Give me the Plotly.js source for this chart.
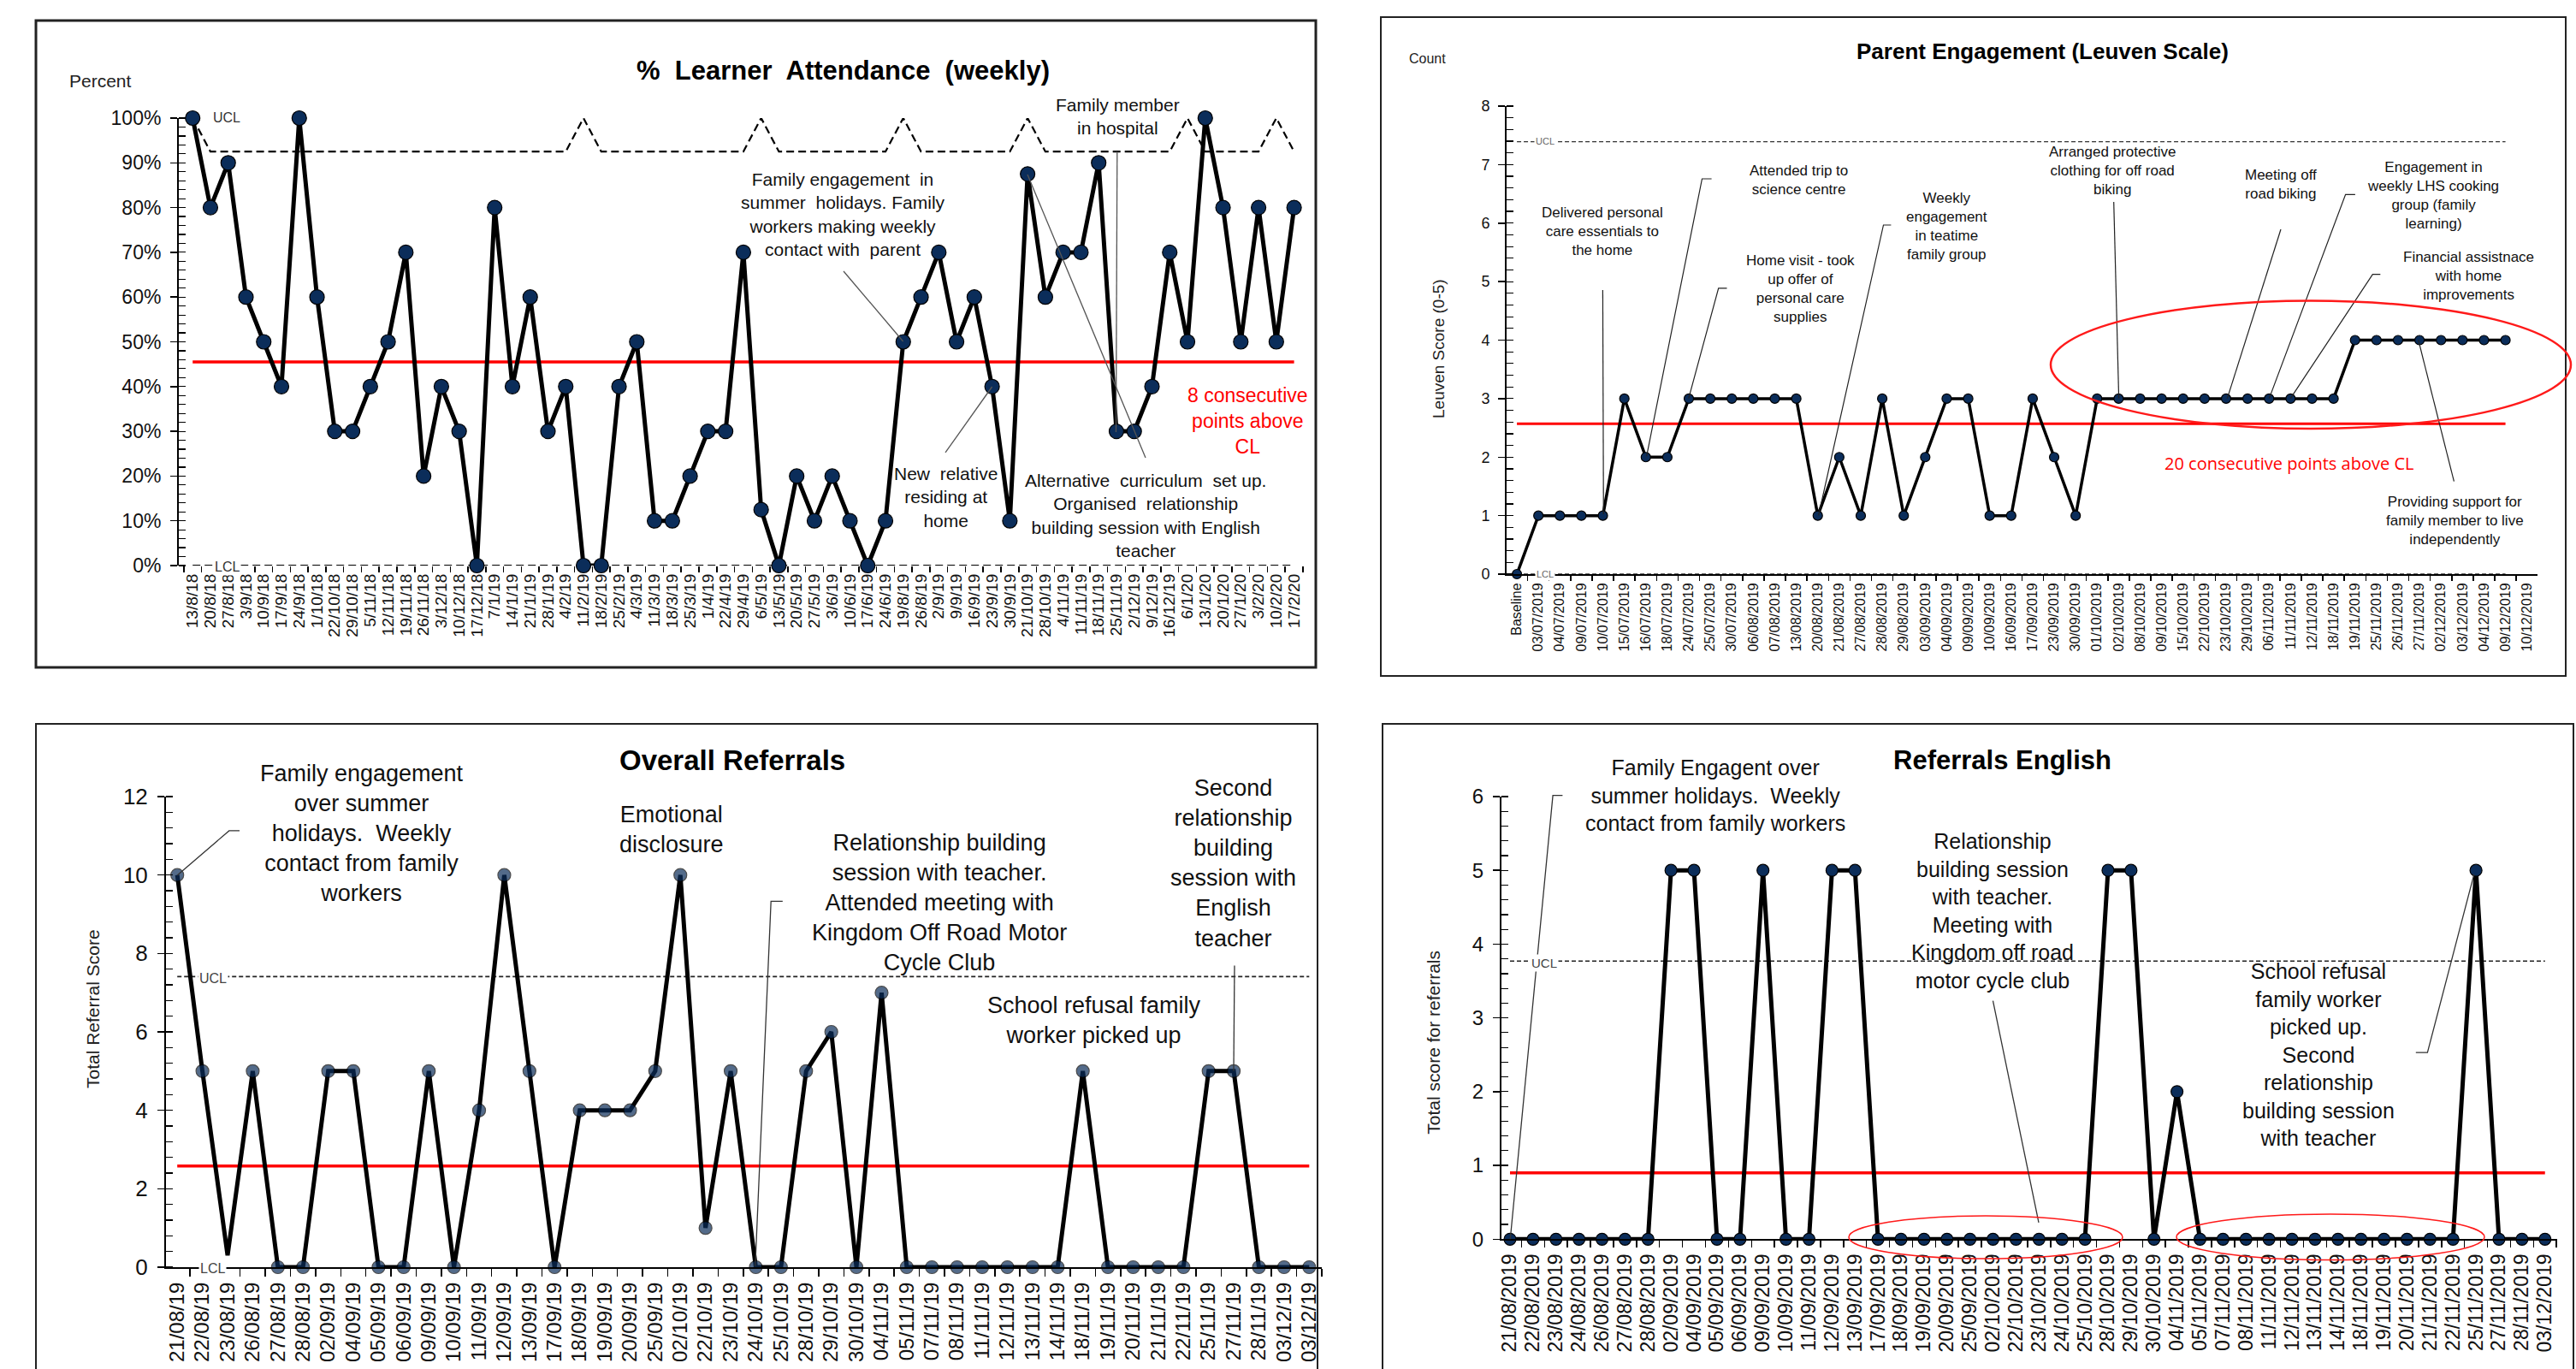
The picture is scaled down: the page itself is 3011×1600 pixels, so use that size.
<!DOCTYPE html>
<html><head><meta charset="utf-8">
<script src="https://cdn.plot.ly/plotly-3.0.1.min.js"></script>
<style>html,body{margin:0;padding:0;background:#fff}#chart{width:3011px;height:1600px}</style>
</head><body><div id="chart"></div>
<script>
// ================= DATA =================
// Panel 1: % Learner Attendance (weekly)
const attWeeks = ["13/8/18","20/8/18","27/8/18","3/9/18","10/9/18","17/9/18","24/9/18","1/10/18","22/10/18","29/10/18","5/11/18","12/11/18","19/11/18","26/11/18","3/12/18","10/12/18","17/12/18","7/1/19","14/1/19","21/1/19","28/1/19","4/2/19","11/2/19","18/2/19","25/2/19","4/3/19","11/3/19","18/3/19","25/3/19","1/4/19","22/4/19","29/4/19","6/5/19","13/5/19","20/5/19","27/5/19","3/6/19","10/6/19","17/6/19","24/6/19","19/8/19","26/8/19","2/9/19","9/9/19","16/9/19","23/9/19","30/9/19","21/10/19","28/10/19","4/11/19","11/11/19","18/11/19","25/11/19","2/12/19","9/12/19","16/12/19","6/1/20","13/1/20","20/1/20","27/1/20","3/2/20","10/2/20","17/2/20"];
const attPct = [100,80,90,60,50,40,100,60,30,30,40,50,70,20,40,30,0,80,40,60,30,40,0,0,40,50,10,10,20,30,30,70,12.5,0,20,10,20,10,0,10,50,60,70,50,60,40,10,87.5,60,70,70,90,30,30,40,70,50,100,80,50,80,50,80];
const attUCL = [100,92.5,92.5,92.5,92.5,92.5,92.5,92.5,92.5,92.5,92.5,92.5,92.5,92.5,92.5,92.5,92.5,92.5,92.5,92.5,92.5,92.5,100,92.5,92.5,92.5,92.5,92.5,92.5,92.5,92.5,92.5,100,92.5,92.5,92.5,92.5,92.5,92.5,92.5,100,92.5,92.5,92.5,92.5,92.5,92.5,100,92.5,92.5,92.5,92.5,92.5,92.5,92.5,92.5,100,92.5,92.5,92.5,92.5,100,92.5];
const attCL = 45.5;
const attLCL = 0;

// Panel 2: Parent Engagement (Leuven Scale)
const leuDates = ["Baseline","03/07/2019","04/07/2019","09/07/2019","10/07/2019","15/07/2019","16/07/2019","18/07/2019","24/07/2019","25/07/2019","30/07/2019","06/08/2019","07/08/2019","13/08/2019","20/08/2019","21/08/2019","27/08/2019","28/08/2019","29/08/2019","03/09/2019","04/09/2019","09/09/2019","10/09/2019","16/09/2019","17/09/2019","23/09/2019","30/09/2019","01/10/2019","02/10/2019","08/10/2019","09/10/2019","15/10/2019","22/10/2019","23/10/2019","29/10/2019","06/11/2019","11/11/2019","12/11/2019","18/11/2019","19/11/2019","25/11/2019","26/11/2019","27/11/2019","02/12/2019","03/12/2019","04/12/2019","09/12/2019","10/12/2019"];
const leuScore = [0,1,1,1,1,3,2,2,3,3,3,3,3,3,1,2,1,3,1,2,3,3,1,1,3,2,1,3,3,3,3,3,3,3,3,3,3,3,3,4,4,4,4,4,4,4,4,null];
const leuUCL = 7.39;
const leuCL = 2.57;
const leuLCL = 0;

// Panel 3: Overall Referrals
const refDates = ["21/08/19","22/08/19","23/08/19","26/08/19","27/08/19","28/08/19","02/09/19","04/09/19","05/09/19","06/09/19","09/09/19","10/09/19","11/09/19","12/09/19","13/09/19","17/09/19","18/09/19","19/09/19","20/09/19","25/09/19","02/10/19","22/10/19","23/10/19","24/10/19","25/10/19","28/10/19","29/10/19","30/10/19","04/11/19","05/11/19","07/11/19","08/11/19","11/11/19","12/11/19","13/11/19","14/11/19","18/11/19","19/11/19","20/11/19","21/11/19","22/11/19","25/11/19","27/11/19","28/11/19","03/12/19","03/12/19"];
const refScore = [10,5,0.3,5,0,0,5,5,0,0,5,0,4,10,5,0,4,4,4,5,10,1,5,0,0,5,6,0,7,0,0,0,0,0,0,0,5,0,0,0,0,5,5,0,0,0];
const refNoMarker = ["23/08/19"];
const refUCL = 7.41;
const refCL = 2.58;
const refLCL = 0;

// Panel 4: Referrals English
const engDates = ["21/08/2019","22/08/2019","23/08/2019","24/08/2019","26/08/2019","27/08/2019","28/08/2019","02/09/2019","04/09/2019","05/09/2019","06/09/2019","09/09/2019","10/09/2019","11/09/2019","12/09/2019","13/09/2019","17/09/2019","18/09/2019","19/09/2019","20/09/2019","25/09/2019","02/10/2019","22/10/2019","23/10/2019","24/10/2019","25/10/2019","28/10/2019","29/10/2019","30/10/2019","04/11/2019","05/11/2019","07/11/2019","08/11/2019","11/11/2019","12/11/2019","13/11/2019","14/11/2019","18/11/2019","19/11/2019","20/11/2019","21/11/2019","22/11/2019","25/11/2019","27/11/2019","28/11/2019","03/12/2019"];
const engScore = [0,0,0,0,0,0,0,5,5,0,0,5,0,0,5,5,0,0,0,0,0,0,0,0,0,0,5,5,0,2,0,0,0,0,0,0,0,0,0,0,0,0,5,0,0,0];
const engUCL = 3.77;
const engCL = 0.9;

// ================= HELPERS =================
const F = "Liberation Sans, Arial, Helvetica, sans-serif";
const W = 3011, H = 1600;
const px = x => x / W, py = y => 1 - y / H;
const NAVY = '#0b2d5a';

// make duplicated category labels unique (invisible zero-width suffix)
function uniq(labels) {
  const seen = {};
  return labels.map(l => { if (seen[l] === undefined) { seen[l] = 0; return l; } seen[l] += 1; return l + '\u200b'.repeat(seen[l]); });
}
const refCats = uniq(refDates);

function series(x, y, xa, ya, ms, lw) {
  return {x, y, xaxis:xa, yaxis:ya, type:'scatter', mode:'lines+markers',
    line:{color:'#000', width:lw}, marker:{size:ms, color:NAVY, line:{color:'#000', width:1.2}},
    cliponaxis:false, connectgaps:false, hoverinfo:'skip', showlegend:false};
}
function level(x, y, xa, ya, color, width, dash) {
  return {x, y, xaxis:xa, yaxis:ya, type:'scatter', mode:'lines',
    line:{color, width, dash: dash || 'solid'}, cliponaxis:false, hoverinfo:'skip', showlegend:false};
}
const constant = (cats, v) => cats.map(() => v);

function xax(domL, domR, range, size, cats, anchor, standoff, ticklen, showline) {
  return {domain:[px(domL), px(domR)], anchor, range, type:'category', categoryorder:'array', categoryarray:cats,
    tickmode:'linear', tick0:0, dtick:1, tickangle:-90,
    tickfont:{family:F, size, color:'#111'}, ticks:'outside', ticklen, tickwidth:1.5, tickcolor:'#000',
    tickson:'boundaries', ticklabelstandoff:standoff,
    showline, linecolor:'#000', linewidth:2, showgrid:false, zeroline:false, fixedrange:true};
}
function yax(top, bottom, range, dtick, minorD, size, anchor, suffix) {
  return {domain:[py(bottom), py(top)], anchor, range, tickmode:'linear', tick0:0, dtick, ticksuffix:suffix || '',
    tickfont:{family:F, size, color:'#111'}, ticks:'outside', ticklen:8, tickwidth:1.5, tickcolor:'#000',
    minor:{tick0:0, dtick:minorD, ticks:'inside', ticklen:8, tickwidth:1.2, tickcolor:'#000', showgrid:false},
    ticklabelstandoff:6, showline:true, linecolor:'#000', linewidth:2, showgrid:false, zeroline:false, fixedrange:true};
}

function T(text, x, y, size, color, extra) {
  return Object.assign({text, x:px(x), y:py(y), xref:'paper', yref:'paper', showarrow:false,
    xanchor:'center', yanchor:'middle', align:'center',
    font:{family:F, size, color: color || '#111'}}, extra || {});
}
function P(points, color, width) {
  const d = points.map((p, i) => (i ? 'L' : 'M') + px(p[0]).toFixed(5) + ',' + py(p[1]).toFixed(5)).join(' ');
  return {type:'path', xref:'paper', yref:'paper', path:d, line:{color: color || '#333', width: width || 1.3}, layer:'above'};
}
function E(x0, y0, x1, y1, width) {
  return {type:'circle', xref:'paper', yref:'paper', x0:px(x0), x1:px(x1), y0:py(y1), y1:py(y0),
    line:{color:'#ff1a1a', width}, fillcolor:'rgba(0,0,0,0)', layer:'above'};
}
function R(x0, y0, x1, y1, width) {
  return {type:'rect', xref:'paper', yref:'paper', x0:px(x0), x1:px(x1), y0:py(y1), y1:py(y0),
    line:{color:'#222', width}, fillcolor:'rgba(0,0,0,0)', layer:'below'};
}

// ================= TRACES =================
const leuX = leuDates.filter((d, i) => leuScore[i] !== null);
const refSeries = series(refCats, refScore, 'x3', 'y3', 15, 5);
refSeries.marker.size = refDates.map(d => refNoMarker.includes(d) ? 0 : 15);
refSeries.marker.line.width = refDates.map(d => refNoMarker.includes(d) ? 0 : 1.2);

const traces = [
  // Panel 1
  level(attWeeks, attUCL, 'x', 'y', '#000', 2.2, '9px,5px'),
  level(attWeeks, constant(attWeeks, attLCL), 'x', 'y', '#000', 2.2, '9px,5px'),
  level(attWeeks, constant(attWeeks, attCL), 'x', 'y', '#ff0000', 3.5),
  series(attWeeks, attPct, 'x', 'y', 17, 5),
  // Panel 2
  level(leuX, constant(leuX, leuUCL), 'x2', 'y2', '#333', 1.3, '5px,3px'),
  level(leuX, constant(leuX, leuLCL), 'x2', 'y2', '#333', 1.3, '5px,3px'),
  level(leuX, constant(leuX, leuCL), 'x2', 'y2', '#ff0000', 3),
  series(leuDates, leuScore, 'x2', 'y2', 11, 3.5),
  // Panel 3
  level(refCats, constant(refCats, refUCL), 'x3', 'y3', '#222', 1.6, '5px,3px'),
  level(refCats, constant(refCats, refCL), 'x3', 'y3', '#ff0000', 3.5),
  refSeries,
  // Panel 4
  level(engDates, constant(engDates, engUCL), 'x4', 'y4', '#222', 1.6, '5px,3px'),
  level(engDates, constant(engDates, engCL), 'x4', 'y4', '#ff0000', 3.5),
  series(engDates, engScore, 'x4', 'y4', 14, 5)
];

// ================= LAYOUT =================
const layout = {
  width:W, height:H, margin:{l:0, r:0, t:0, b:0}, paper_bgcolor:'#fff', plot_bgcolor:'rgba(0,0,0,0)',
  showlegend:false, font:{family:F},
  xaxis:  xax(209, 1523, [-0.78, 62.5], 19, attWeeks, 'y', 5, 7, false),
  yaxis:  yax(138, 661, [0, 100], 10, 2, 23, 'x', '%'),
  xaxis2: xax(1761, 2966, [-0.48, 47.49], 16, leuDates, 'y2', 2, 6, true),
  yaxis2: yax(124, 671, [0, 8], 1, 0.2, 18, 'x2'),
  xaxis3: xax(194, 1545, [-0.449, 45.5], 24, refCats, 'y3', 6, 9, true),
  yaxis3: yax(931, 1481, [0, 12], 2, 0.4, 26, 'x3'),
  xaxis4: xax(1755, 2989, [-0.372, 45.53], 23, engDates, 'y4', 6, 8, true),
  yaxis4: yax(931, 1448.3, [0, 6], 1, 0.2, 24, 'x4'),
  shapes: [
    R(42, 24, 1538, 780, 3),
    R(1614, 20, 2999, 790, 2),
    R(42, 846, 1540, 1640, 2),
    R(1616, 846, 3008, 1640, 2),
    // panel 1 pointers
    P([[986, 317], [1055.6, 399]], '#555', 1.3),
    P([[1305.8, 177], [1304.5, 505]], '#555', 1.3),
    P([[1105, 529], [1159.6, 452]], '#555', 1.3),
    P([[1339, 535], [1201, 204]], '#555', 1.3),
    // panel 2 pointers
    P([[1873.4, 339], [1874.3, 601]], '#222', 1.2),
    P([[2000.6, 209], [1989.5, 209], [1924.7, 533]], '#222', 1.2),
    P([[2018.5, 336.8], [2008.7, 336.8], [1973.8, 465.6]], '#222', 1.2),
    P([[2210.4, 263], [2201.5, 263], [2125.6, 602.4]], '#222', 1.2),
    P([[2470.7, 236], [2476.6, 465.6]], '#222', 1.2),
    P([[2666, 268], [2603.4, 465.6]], '#222', 1.2),
    P([[2752.9, 227.3], [2741.6, 227.3], [2652.4, 465.6]], '#222', 1.2),
    P([[2782.3, 320.6], [2773.3, 320.6], [2677.3, 465.6]], '#222', 1.2),
    P([[2868.4, 562.7], [2826.7, 397.2]], '#222', 1.2),
    E(2397, 351.5, 3005, 501, 2.5),
    // panel 3 pointers
    P([[280, 970.9], [267.8, 970.9], [207.2, 1023]], '#333', 1.3),
    P([[914.8, 1053.3], [901.2, 1053.3], [882.8, 1479.8]], '#333', 1.3),
    P([[1443, 1128.4], [1442, 1251.8]], '#333', 1.3),
    // panel 4 pointers
    P([[1826.4, 929.7], [1815.1, 929.7], [1765.3, 1448.3]], '#333', 1.3),
    P([[2329.5, 1169.6], [2383, 1429]], '#333', 1.3),
    P([[2823.8, 1230.2], [2837.4, 1230.2], [2891.8, 1021.8]], '#333', 1.3),
    E(2161, 1421, 2481, 1471, 1.5),
    E(2544, 1419, 2904, 1472.6, 1.5)
  ],
  annotations: [
    // Panel 1
    T('<b>%  Learner  Attendance  (weekly)</b>', 985, 82, 31, '#000'),
    T('Percent', 117, 95, 21, '#222'),
    T('UCL', 265, 138, 16, '#333', {bgcolor:'#fff', borderpad:1}),
    T('LCL', 265, 662, 16, '#333', {bgcolor:'#fff', borderpad:1}),
    T('Family engagement  in<br>summer  holidays. Family<br>workers making weekly<br>contact with  parent', 986, 250, 21),
    T('Family member<br>in hospital', 1306, 136, 21),
    T('New  relative<br>residing at<br>home', 1105, 581, 21),
    T('Alternative  curriculum  set up.<br>Organised  relationship<br>building session with English<br>teacher', 1339, 602, 21),
    T('8 consecutive<br>points above<br>CL', 1458, 492, 23, '#ff0000'),
    // Panel 2
    T('<b>Parent Engagement (Leuven Scale)</b>', 2387, 60, 26, '#000'),
    T('Count', 1668, 69, 16, '#222'),
    T('Leuven Score (0-5)', 1681, 408, 19, '#222', {textangle:-90}),
    T('UCL', 1806, 165.4, 11, '#666', {bgcolor:'#fff', borderpad:1}),
    T('LCL', 1806, 671, 11, '#666', {bgcolor:'#fff', borderpad:1}),
    T('Delivered personal<br>care essentials to<br>the home', 1873.4, 270.5, 17),
    T('Attended trip to<br>science centre', 2102, 211, 17),
    T('Home visit - took<br>up offer of<br>personal care<br>supplies', 2104.6, 338, 17),
    T('Weekly<br>engagement<br>in teatime<br>family group', 2275.5, 264.5, 17),
    T('Arranged protective<br>clothing for off road<br>biking', 2469, 199.6, 17),
    T('Meeting off<br>road biking', 2666, 215, 17),
    T('Engagement in<br>weekly LHS cooking<br>group (family<br>learning)', 2843.5, 228.5, 17),
    T('Financial assistnace<br>with home<br>improvements', 2885.6, 322, 17),
    T('Providing support for<br>family member to live<br>independently', 2869.7, 608.4, 17),
    T('20 consecutive points above CL', 2675, 541.6, 20, '#ff0000', {font:{family:'Open Sans, Liberation Sans, sans-serif', size:20, color:'#ff0000'}}),
    // Panel 3
    T('<b>Overall Referrals</b>', 856, 888.5, 33, '#000'),
    T('Total Referral Score', 108, 1179, 21, '#222', {textangle:-90}),
    T('UCL', 249.4, 1143, 16, '#444', {bgcolor:'#fff', borderpad:1}),
    T('LCL', 248.4, 1482, 16, '#444', {bgcolor:'#fff', borderpad:1}),
    T('Family engagement<br>over summer<br>holidays.  Weekly<br>contact from family<br>workers', 423, 973.7, 27),
    T('Emotional<br>disclosure', 784.5, 969.7, 27),
    T('Relationship building<br>session with teacher.<br>Attended meeting with<br>Kingdom Off Road Motor<br>Cycle Club', 1097.5, 1055.2, 27),
    T('School refusal family<br>worker picked up', 1279.3, 1192, 27),
    T('Second<br>relationship<br>building<br>session with<br>English<br>teacher', 1441.6, 1009, 27),
    // Panel 4
    T('<b>Referrals English</b>', 2340.7, 888.5, 31, '#000'),
    T('Total score for referrals', 1674.7, 1218, 21, '#222', {textangle:-90}),
    T('UCL', 1804.7, 1125, 15, '#444', {bgcolor:'#fff', borderpad:1}),
    T('Family Engagent over<br>summer holidays.  Weekly<br>contact from family workers', 2005.3, 929.7, 25),
    T('Relationship<br>building session<br>with teacher.<br>Meeting with<br>Kingdom off road<br>motor cycle club', 2329, 1064.9, 25),
    T('School refusal<br>family worker<br>picked up.<br>Second<br>relationship<br>building session<br>with teacher', 2710.4, 1232.6, 25)
  ]
};

Plotly.newPlot('chart', traces, layout, {staticPlot:true, displayModeBar:false});
</script>
</body></html>
